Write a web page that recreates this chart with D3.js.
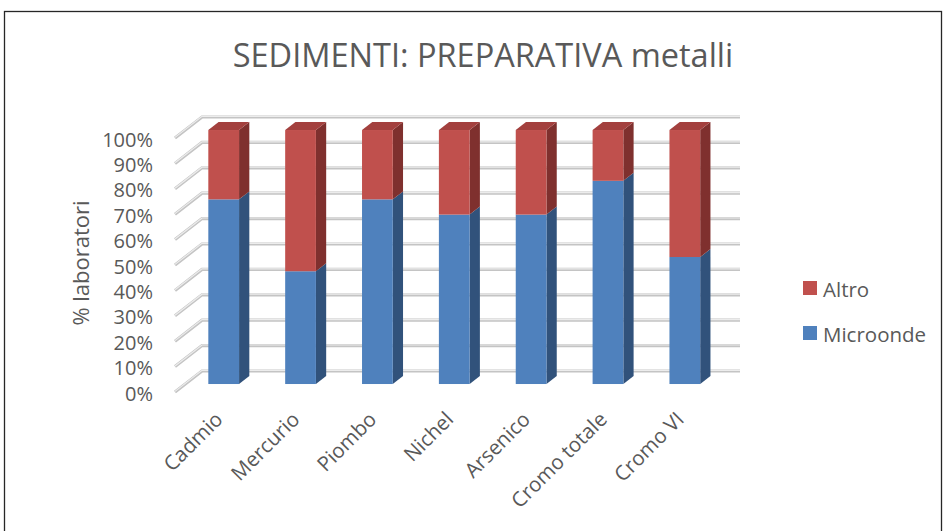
<!DOCTYPE html>
<html>
<head>
<meta charset="utf-8">
<script src="https://cdn.jsdelivr.net/npm/d3@7/dist/d3.min.js"></script>
<style>
  body { margin: 0; background: #fff; }
  text { font-family: "Open Sans", "DejaVu Sans", sans-serif; fill: #595959; }
</style>
</head>
<body>
<svg id="grafico" width="943" height="531"></svg>
<script>
"use strict"
// 3D stacked 100% column chart, sediments sample preparation for metals

var categorie = ["Cadmio", "Mercurio", "Piombo", "Nichel", "Arsenico", "Cromo totale", "Cromo VI"],
    microonde = [0.727, 0.444, 0.727, 0.667, 0.667, 0.80, 0.50],   // share of labs using microwave
    altro     = [0.273, 0.556, 0.273, 0.333, 0.333, 0.20, 0.50],   // other methods
    serie     = ["Microonde", "Altro"],
    ticks     = d3.range(0, 11).map(function(i){ return i / 10; }),
    colori    = {
      Microonde: {front: "#4f81bd", side: "#31527b", top: "#3f6a9e"},
      Altro:     {front: "#c0504d", side: "#7f302e", top: "#a3403e"}
    };

var svg = d3.select("svg#grafico"),
    depth = [27, -21],        // floor depth vector (front -> back wall)
    f0 = 0.38, f1 = 0.76;     // bar front / back as fraction of the depth

var righe = categorie.map(function(c, i){
  return {cat: c, Microonde: microonde[i], Altro: altro[i]};
});

var x = d3.scaleBand()
    .domain(categorie)
    .range([175, 713])
    .paddingInner(0.6)
    .paddingOuter(0.3),
    y = d3.scaleLinear().domain([0, 1]).range([392, 138]);

var stacked = d3.stack().keys(serie)(righe);

// chart frame
svg.append("rect")
    .attr("x", 4.5).attr("y", 11.5)
    .attr("width", 937).attr("height", 530)
    .attr("fill", "none").attr("stroke", "#262626").attr("stroke-width", 1.3);

// title
svg.append("text")
    .attr("x", 483).attr("y", 67)
    .attr("text-anchor", "middle")
    .style("font-size", "32.5px")
    .text("SEDIMENTI: PREPARATIVA metalli");

// gridlines: side wall diagonal + back wall
var griglia = svg.append("g").attr("class", "griglia");
ticks.forEach(function(t){
  var yf = y(t),
      p = [[175, yf], [175 + depth[0], yf + depth[1]], [713 + depth[0], yf + depth[1]]];
  griglia.append("path")
      .attr("d", d3.line()(p))
      .attr("fill", "none").attr("stroke", "#c4c4c4").attr("stroke-width", 3.2);
  griglia.append("path")
      .attr("d", d3.line()(p.map(function(q){ return [q[0], q[1] - 0.6]; })))
      .attr("fill", "none").attr("stroke", "#ececec").attr("stroke-width", 1.2);
});

// y tick labels
svg.append("g").selectAll("text")
    .data(ticks)
  .enter().append("text")
    .attr("x", 153)
    .attr("y", function(d){ return y(d) + 1; })
    .attr("text-anchor", "end")
    .attr("dominant-baseline", "central")
    .style("font-size", "20px")
    .text(function(d){ return Math.round(d * 100) + "%"; });

// y axis title
svg.append("text")
    .attr("transform", "translate(80,263) rotate(-90)")
    .attr("text-anchor", "middle")
    .attr("dominant-baseline", "central")
    .style("font-size", "22px")
    .text("% laboratori");

// bars
var bx0 = depth[0] * f0, by0 = depth[1] * f0,
    bdx = depth[0] * (f1 - f0), bdy = depth[1] * (f1 - f0),
    barre = svg.append("g").attr("class", "barre");

stacked.forEach(function(s){
  var col = colori[s.key];
  s.forEach(function(d){
    var xl = x(d.data.cat) + bx0,
        xr = xl + x.bandwidth(),
        yb = y(d[0]) + by0,
        yt = y(d[1]) + by0,
        g = barre.append("g");
    // side face
    g.append("path")
        .attr("d", d3.line()([[xr, yb], [xr + bdx, yb + bdy], [xr + bdx, yt + bdy], [xr, yt]]) + "Z")
        .attr("fill", col.side);
    // top face (only the visible top segment)
    if (d[1] >= 0.999) {
      g.append("path")
          .attr("d", d3.line()([[xl, yt], [xl + bdx, yt + bdy], [xr + bdx, yt + bdy], [xr, yt]]) + "Z")
          .attr("fill", col.top);
    }
    // front face
    g.append("rect")
        .attr("x", xl).attr("y", yt)
        .attr("width", x.bandwidth()).attr("height", yb - yt)
        .attr("fill", col.front);
  });
});

// category labels
svg.append("g").selectAll("text")
    .data(categorie)
  .enter().append("text")
    .attr("transform", function(d){
      return "translate(" + (x(d) + x.bandwidth() / 2 + 5) + ",415) rotate(-45)";
    })
    .attr("text-anchor", "end")
    .attr("dominant-baseline", "central")
    .style("font-size", "20.5px")
    .text(function(d){ return d; });

// legend
var legenda = svg.append("g").selectAll("g")
    .data(serie.slice().reverse())
  .enter().append("g")
    .attr("transform", function(d, i){ return "translate(803," + (281 + i * 45) + ")"; });
legenda.append("rect")
    .attr("width", 14).attr("height", 14)
    .attr("fill", function(d){ return colori[d].front; });
legenda.append("text")
    .attr("x", 20).attr("y", 7.5)
    .attr("dominant-baseline", "central")
    .style("font-size", "20.5px")
    .text(function(d){ return d; });
</script>
</body>
</html>
